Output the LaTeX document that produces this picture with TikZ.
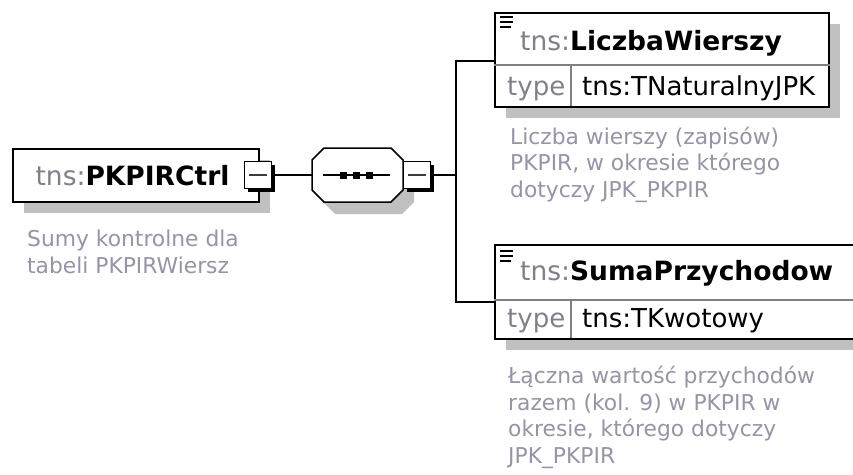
\documentclass[tikz,border=0pt]{standalone}
\usepackage{fontspec}
\setmainfont{DejaVu Sans}
\definecolor{shadowgray}{RGB}{192,192,192}
\definecolor{nsgray}{RGB}{128,128,138}
\definecolor{descgray}{RGB}{150,148,165}
\definecolor{divgray}{RGB}{128,128,128}
\definecolor{minusgray}{RGB}{60,60,60}
\begin{document}
\begin{tikzpicture}[x=1pt,y=-1pt,
  shade box/.style={fill=shadowgray,draw=none},
  rootbox/.style={draw=black,line width=2pt,fill=white,minimum width=246pt,minimum height=53pt,inner sep=0pt,font=\fontsize{26.5}{30}\selectfont},
  elembox/.style={draw=black,line width=2pt,fill=white,inner sep=0pt},
  minusbox/.style={draw=black,line width=1.5pt,fill=white,minimum size=27pt,inner sep=0pt},
  minusshadow/.style={fill=black},
  minusline/.style={draw=minusgray,line width=2pt},
  conn/.style={draw=black,line width=2pt},
  divider/.style={draw=divgray,line width=1.5pt},
  hdrtext/.style={anchor=base west,inner sep=0pt,font=\fontsize{26.5}{30}\selectfont},
  typetext/.style={anchor=base west,inner sep=0pt,font=\fontsize{26}{30}\selectfont},
  desc/.style={anchor=base west,inner sep=0pt,align=left,text=descgray,font=\fontsize{21.8}{26.5}\selectfont},
  icon/.style={draw=black,line width=1.6pt}
]
\useasboundingbox (0,0) rectangle (853,474);
\fill[white] (0,0) rectangle (853,474);

% ---------- root element ----------
\fill[shade box] (24,160) rectangle (270,213);
\node[rootbox] (root) at (136,175.5) {\hspace*{-7pt}{\color{nsgray}tns:}\textbf{PKPIRCtrl}};
\fill[minusshadow] (247.5,164.5) rectangle (275,192);
\node[minusbox] (m1) at (258,175) {};
\draw[minusline] ([xshift=-9pt]m1.center) -- ([xshift=9pt]m1.center);
\node[desc] (rootdesc) at (27,273) {Sumy kontrolne dla\\tabeli PKPIRWiersz};

% ---------- sequence compositor ----------
\fill[shade box] (335,160) -- (402,160) -- (414,172) -- (414,202) -- (402,214) -- (335,214) -- (323,202) -- (323,172) -- cycle;
\draw[black,line width=1.5pt,fill=white] (324,148) -- (391,148) -- (403,160) -- (403,190) -- (391,202) -- (324,202) -- (312,190) -- (312,160) -- cycle;
\coordinate (seqW) at (312,175);
\draw[black,line width=2pt] (323,175) -- (390,175);
\foreach \cx in {343,356,369.5} \fill[black] (\cx-3.5,171.5) rectangle (\cx+3.5,178.5);
\fill[minusshadow] (406.5,164.5) rectangle (434,192);
\node[minusbox] (m2) at (417,175) {};
\draw[minusline] ([xshift=-9pt]m2.center) -- ([xshift=9pt]m2.center);

% ---------- element LiczbaWierszy ----------
\fill[shade box] (506,24) rectangle (840,118);
\node[elembox,minimum width=334pt,minimum height=94pt] (e1) at (662,60) {};
\draw[divider] (e1.west |- 0,65) -- (e1.east |- 0,65);
\draw[divider] (571,65) -- (571,106);
\draw[icon] (500,17) -- (513,17) (500,22) -- (513,22) (500,27) -- (511,27);
\node[hdrtext] (e1name) at (520,50) {{\color{nsgray}tns:}\textbf{LiczbaWierszy}};
\node[typetext,text=nsgray] (e1type) at (507,95) {type};
\node[typetext] (e1tval) at (582,95) {tns:TNaturalnyJPK};
\node[desc] (e1desc) at (510,197) {Liczba wierszy (zapisów)\\PKPIR, w okresie którego\\dotyczy JPK\_PKPIR};

% ---------- element SumaPrzychodow ----------
\fill[shade box] (506,256) rectangle (882,350);
\node[elembox,minimum width=376pt,minimum height=94pt] (e2) at (683,292) {};
\draw[divider] (e2.west |- 0,300) -- (e2.east |- 0,300);
\draw[divider] (571,300) -- (571,338);
\draw[icon] (500,251) -- (513,251) (500,256) -- (513,256) (500,261) -- (511,261);
\node[hdrtext] (e2name) at (520,280) {{\color{nsgray}tns:}\textbf{SumaPrzychodow}};
\node[typetext,text=nsgray] (e2type) at (507,327) {type};
\node[typetext] (e2tval) at (582,327) {tns:TKwotowy};
\node[desc] (e2desc) at (508,463) {Łączna wartość przychodów\\razem (kol. 9) w PKPIR w\\okresie, którego dotyczy\\JPK\_PKPIR};

% ---------- connectors ----------
\coordinate (junc) at (456,175);
\draw[conn] (m1.east) -- (seqW);
\draw[conn] (m2.east) -- (junc);
\draw[conn] ([yshift=4pt]e1.west |- 0,65) -| (junc) |- ([yshift=-2pt]e2.west |- 0,300);
\end{tikzpicture}
\end{document}
